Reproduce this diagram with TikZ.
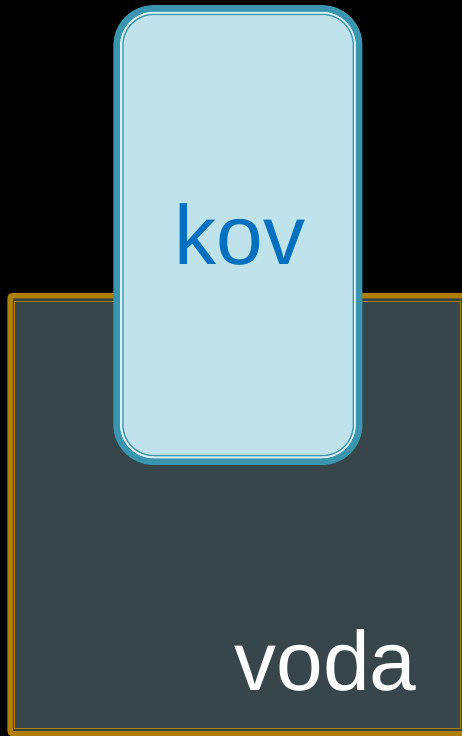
\documentclass[tikz,border=0pt]{standalone}
\usepackage{fontspec}
\setmainfont{Liberation Sans}
\definecolor{slate}{HTML}{36464B}
\definecolor{gold}{HTML}{B07F00}
\definecolor{teal}{HTML}{3A96AE}
\definecolor{lightfill}{HTML}{C0E2EB}
\definecolor{gapline}{HTML}{DCF0F6}
\definecolor{kovblue}{HTML}{0070C0}
\tikzset{
  bigtext/.style={font=\fontsize{84}{100}\selectfont, inner sep=0pt, anchor=base},
}
\begin{document}
\begin{tikzpicture}[x=1pt,y=-1pt]
  \useasboundingbox (0,0) rectangle (462,736);
  \clip (0,0) rectangle (462,736);
  \fill[black] (0,0) rectangle (462,736);
  % water box
  \draw[gold, line width=5.5pt, fill=slate, rounded corners=3pt] (10,295.5) rectangle (465.5,733.8);
  \draw[gold, line width=1.3pt] (14.7,301.3) rectangle (460.5,728.3);
  \node[bigtext, text=white] (voda) at (325.5,690) {voda};
  % bucket box
  \draw[teal, line width=6.7pt, fill=lightfill, rounded corners=37pt] (116.7,8.5) rectangle (359.1,461.6);
  \draw[gapline, line width=1.8pt, rounded corners=33pt] (121,12.8) rectangle (354.8,457.3);
  \draw[teal, line width=1.3pt, rounded corners=31pt] (122.9,14.4) rectangle (353.3,455.6);
  \node[bigtext, text=kovblue] (kov) at (240,264) {kov};
\end{tikzpicture}
\end{document}
